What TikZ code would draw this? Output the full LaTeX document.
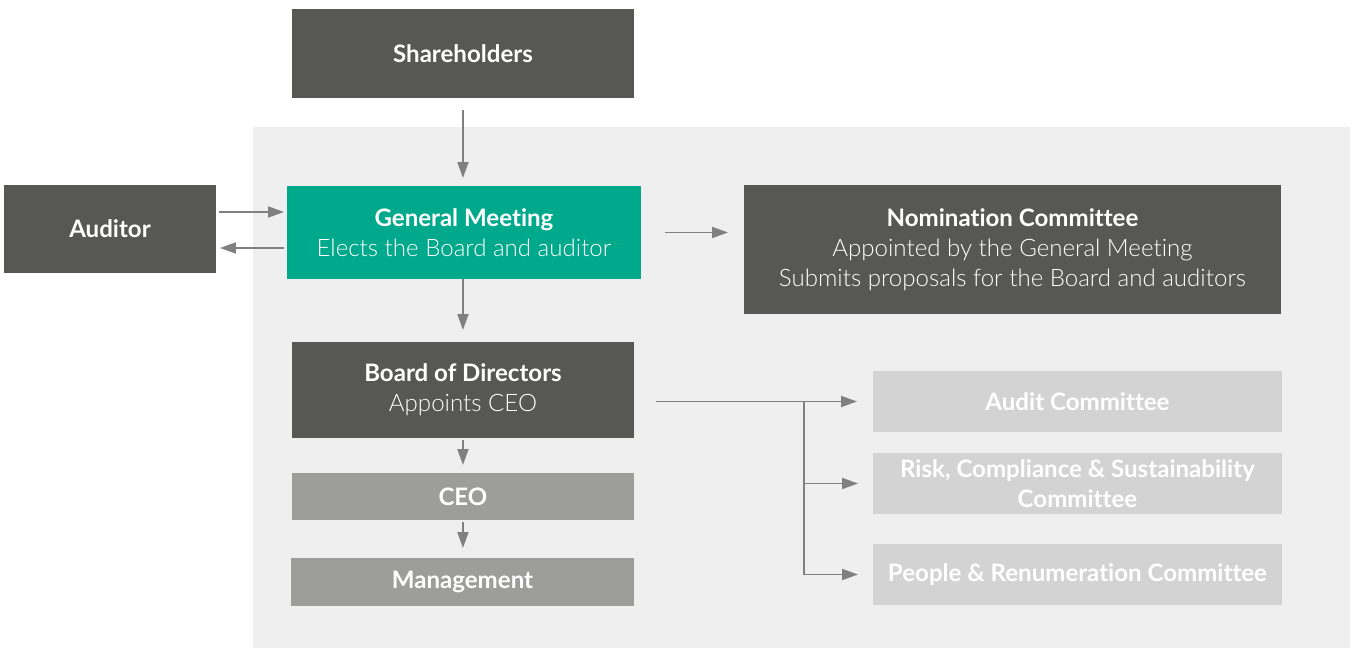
\documentclass[tikz,border=0pt]{standalone}
\usepackage{fontspec}
\setmainfont{Lato}[Ligatures=NoCommon]
\newfontfamily\lightfont{Lato Light}[Ligatures=NoCommon]
\usetikzlibrary{arrows.meta}
\definecolor{darkbox}{HTML}{575756}
\definecolor{tealbox}{HTML}{00A88C}
\definecolor{midbox}{HTML}{9D9D9C}
\definecolor{lightbox}{HTML}{D3D3D3}
\definecolor{panel}{HTML}{EFEFEF}
\definecolor{arrowgrey}{HTML}{808080}

\tikzset{
  box/.style={anchor=north west, inner sep=0pt, outer sep=0pt, align=center,
    text=white, font=\fontsize{13.7}{17}\selectfont},
  darkbox/.style={box, fill=darkbox},
  tealbox/.style={box, fill=tealbox},
  midbox/.style={box, fill=midbox},
  lightbox/.style={box, fill=lightbox},
  arr/.style={draw=arrowgrey, line width=1.1pt,
    -{Triangle[length=0.32cm, width=0.22cm]}}
}

\begin{document}
\begin{tikzpicture}[x=0.02cm, y=-0.02cm]
        \useasboundingbox (0,0) rectangle (1352,648);
        \fill[panel] (253,127) rectangle (1350,648);

        \node[darkbox, minimum width=6.84cm, minimum height=1.78cm] (sh) at (292,9) {\bfseries Shareholders};
        \node[darkbox, minimum width=4.24cm, minimum height=1.76cm] (au) at (4,185) {\bfseries Auditor};
        \node[tealbox, minimum width=7.08cm, minimum height=1.86cm] (gm) at (287,186)
          {\bfseries General Meeting\\ \lightfont Elects the Board and auditor};
        \node[darkbox, minimum width=10.74cm, minimum height=2.58cm] (nom) at (744,185)
          {\bfseries Nomination Committee\\ \lightfont Appointed by the General Meeting\\ \lightfont Submits proposals for the Board and auditors};

        \node[darkbox, minimum width=6.84cm, minimum height=1.92cm] (bd) at (292,342)
          {\bfseries Board of Directors\\ \lightfont Appoints CEO};
        \node[midbox, minimum width=6.84cm, minimum height=0.94cm] (ceo) at (292,473) {\bfseries CEO};
        \node[midbox, minimum width=6.86cm, minimum height=0.96cm] (mg) at (291,558) {\bfseries Management};

        \node[lightbox, minimum width=8.18cm, minimum height=1.22cm] (audit) at (873,371) {\bfseries Audit Committee};
        \node[lightbox, minimum width=8.18cm, minimum height=1.22cm] (risk) at (873,453)
          {\bfseries Risk, Compliance \& Sustainability\\ \bfseries Committee};
        \node[lightbox, minimum width=8.18cm, minimum height=1.22cm] (ppl) at (873,544) {\bfseries People \& Renumeration Committee};

        % arrows
        \draw[arr, shorten <=0.24cm, shorten >=0.16cm] (sh.south) -- (sh.south |- gm.north);
        \draw[arr, shorten <=0.06cm, shorten >=0.06cm] ([yshift=0.34cm]au.east) -- ([yshift=0.34cm]au.east -| gm.west);
        \draw[arr, shorten <=0.06cm, shorten >=0.08cm] ([yshift=-0.38cm]au.east -| gm.west) -- ([yshift=-0.38cm]au.east);
        \draw[arr, shorten <=0.48cm, shorten >=0.32cm] (gm.east) -- (gm.east -| nom.west);
        \draw[arr, shorten >=0.24cm] (sh.south |- gm.south) -- (sh.south |- bd.north);
        \draw[arr, shorten <=0.04cm, shorten >=0.16cm] (bd.south) -- (ceo.north);
        \draw[arr, shorten <=0.04cm, shorten >=0.2cm] (ceo.south) -- (ceo.south |- mg.north);

        \coordinate (br) at (804,402);
        \draw[arr, shorten <=0.44cm, shorten >=0.32cm] (audit.west -| bd.east) -- (audit.west);
        \draw[arr, shorten >=0.30cm] (br) |- (risk.west);
        \draw[arr, shorten >=0.30cm] (br) |- (ppl.west);
    \end{tikzpicture}
\end{document}
